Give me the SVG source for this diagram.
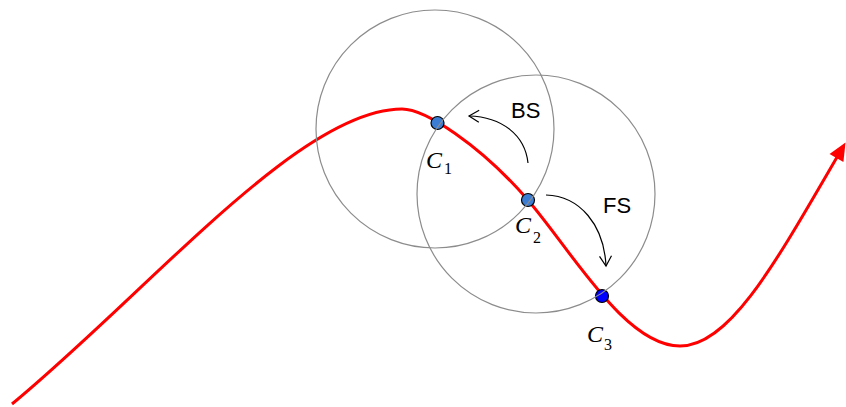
<svg xmlns="http://www.w3.org/2000/svg" width="846" height="407" viewBox="0 0 846 407">
<style>
.ring{fill:none;stroke:#8c8c8c;stroke-width:1.2}
.dot{stroke:#000;stroke-width:1.2}
.lbl{font-family:"Liberation Sans",Arial,sans-serif;font-size:22px;fill:#000}
.cl{font-family:"Liberation Serif","Times New Roman",serif;font-style:italic;font-size:24px;fill:#000}
.sub{font-family:"Liberation Serif","Times New Roman",serif;font-size:16px;fill:#000}
.arc{fill:none;stroke:#000;stroke-width:1.2}
</style>
<defs>
<marker id="redhead" markerUnits="userSpaceOnUse" markerWidth="20" markerHeight="18" refX="7" refY="8" orient="auto" overflow="visible">
<path d="M0,0 L18,8 L0,16 z" fill="#ff0000"/>
</marker>
<marker id="open" markerUnits="userSpaceOnUse" markerWidth="14" markerHeight="14" refX="10" refY="6" orient="auto" overflow="visible">
<path d="M0,0 L10,6 L0,12" fill="none" stroke="#000" stroke-width="1.2"/>
</marker>
</defs>
<g id="connectors">
<path id="curve" d="M12,404 C150,290 300,109 402,109 C425,109 480,145 527,199 C572,251 625,346 680,346 C730,346 776,262 840,152" fill="none" stroke="#ff0000" stroke-width="3" marker-end="url(#redhead)"/>
<path id="bs-arrow" class="arc" d="M528,163 C525,135 502,117 469,116" marker-end="url(#open)"/>
<path id="fs-arrow" class="arc" d="M546,195 C580,196 604,225 606,266" marker-end="url(#open)"/>
</g>
<g id="C1">
<circle class="dot" cx="437.5" cy="123" r="6.5" fill="#3c7dd4"/>
<text class="cl" x="426" y="168">C</text><text class="sub" x="444" y="174">1</text>
</g>
<g id="C2">
<circle class="dot" cx="528" cy="200" r="6.5" fill="#3c7dd4"/>
<text class="cl" x="515" y="233">C</text><text class="sub" x="533" y="243">2</text>
</g>
<g id="C3">
<circle class="dot" cx="602" cy="296" r="6.5" fill="#0000ff"/>
<text class="cl" x="587" y="342">C</text><text class="sub" x="604" y="350">3</text>
</g>
<g id="rings">
<circle class="ring" cx="435" cy="129" r="119"/>
<circle class="ring" cx="536" cy="194" r="119"/>
</g>
<g id="labels">
<text class="lbl" x="511" y="118">BS</text>
<text class="lbl" x="603" y="213">FS</text>
</g>
</svg>
